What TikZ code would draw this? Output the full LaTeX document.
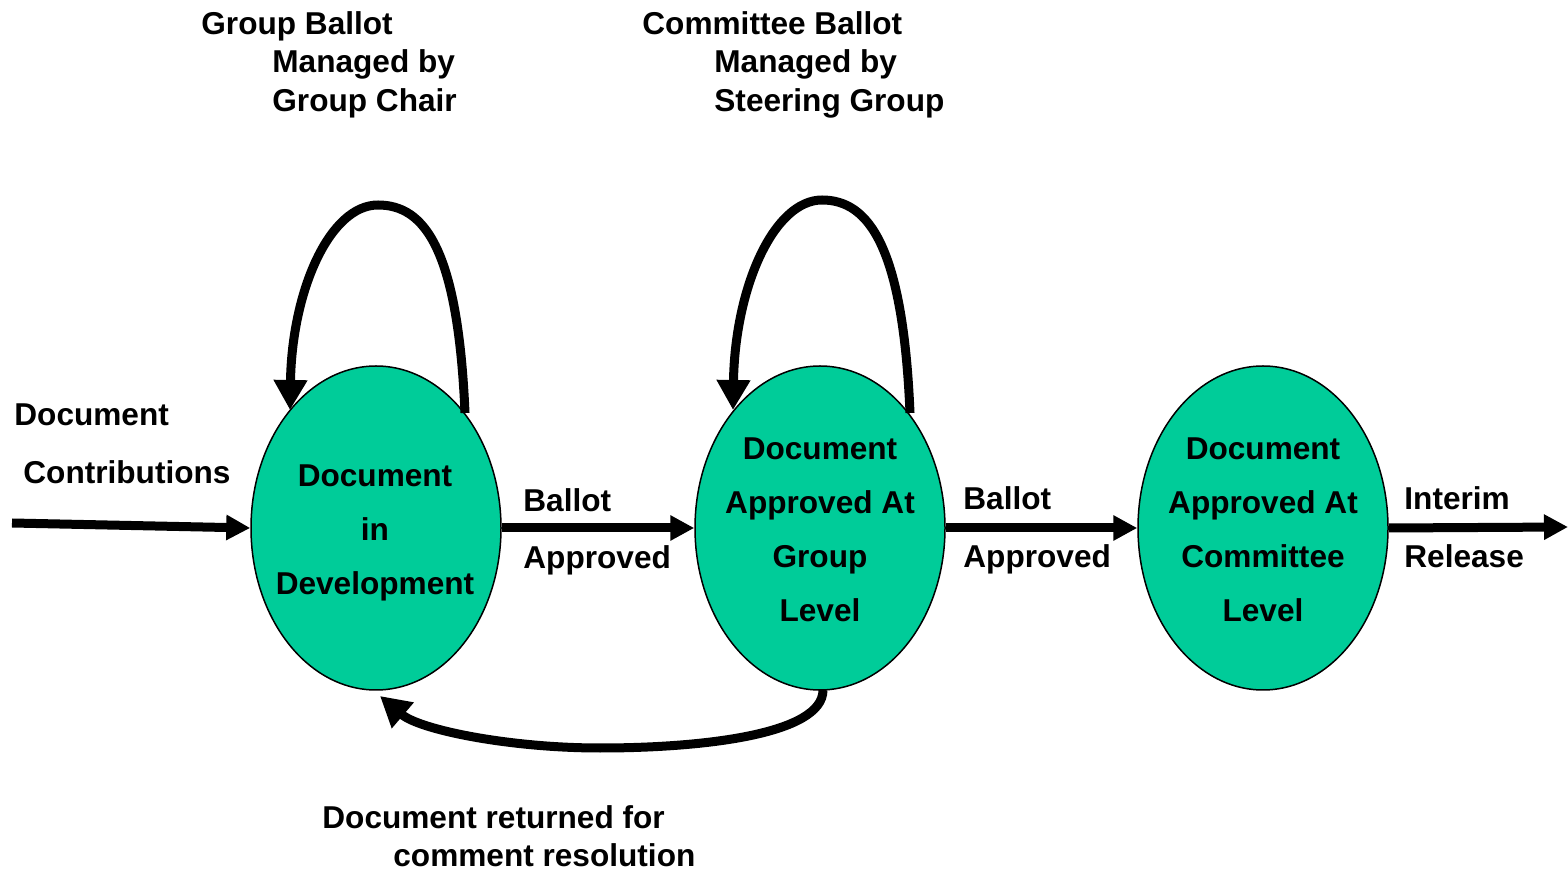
\documentclass[tikz,border=0pt]{standalone}
\usepackage{fontspec}
\setmainfont{Liberation Sans}
\usetikzlibrary{shapes.geometric,arrows.meta}
\definecolor{stategreen}{HTML}{00CC99}
\begin{document}
\begin{tikzpicture}[x=0.5pt,y=-0.5pt,
  state/.style={ellipse, draw=black, line width=0.75pt, fill=stategreen,
    minimum width=125pt, minimum height=162pt, inner sep=0pt},
  stxt/.style={align=center, font=\fontsize{15.8}{27}\selectfont\bfseries, inner sep=0pt},
  lbl/.style={anchor=base west, font=\fontsize{15.8}{19}\selectfont\bfseries, inner sep=0pt},
  flow/.style={line width=4.5pt, -{Triangle[length=12pt,width=12pt]}},
  loopy/.style={line width=4.5pt, -{Triangle[length=15pt,width=16pt]}}]
\useasboundingbox (0,0) rectangle (1568,870);

% states
\node[state] (e1) at (376,528) {};
\node[state] (e2) at (820,528) {};
\node[state] (e3) at (1263,528) {};
\node[stxt] (t1) at (375,533) {Document\\in\\Development};
\node[stxt] (t2) at (820,530) {Document\\Approved At\\Group\\Level};
\node[stxt] (t3) at (1263,530) {Document\\Approved At\\Committee\\Level};

% straight flows
\coordinate (src) at (12,523);
\coordinate (sink) at (1568,527);
\draw[flow] (src) -- (e1.west);
\draw[flow] (e1.east) -- (e2.west);
\draw[flow] (e2.east) -- (e3.west);
\draw[flow] (e3.east) -- (sink);

% self loops
\coordinate (l1a) at (465,413);
\coordinate (l1b) at (290,410);
\coordinate (l2a) at (910,413);
\coordinate (l2b) at (733,410);
\draw[loopy] (l1a) .. controls (458,250) and (425,205) .. (378,205)
  .. controls (330,205) and (292,290) .. (l1b);
\draw[loopy] (l2a) .. controls (903,247) and (869,200) .. (822,200)
  .. controls (774,200) and (735,287) .. (l2b);

% return
\coordinate (r1) at (823,690);
\coordinate (r2) at (380,696);
\draw[loopy] (r1) .. controls (823,735) and (700,748) .. (600,748)
  .. controls (510,748) and (420,730) .. (r2);

% labels
\node[lbl] (g1) at (201,35) {Group Ballot};
\node[lbl] (g2) at (272,73) {Managed by};
\node[lbl] (g3) at (272,112) {Group Chair};
\node[lbl] (c1) at (642,35) {Committee Ballot};
\node[lbl] (c2) at (714,73) {Managed by};
\node[lbl] (c3) at (714,112) {Steering Group};
\node[lbl] (d1) at (14,426) {Document};
\node[lbl] (d2) at (23,484) {Contributions};
\node[lbl] (b1) at (523,512) {Ballot};
\node[lbl] (b2) at (523,569) {Approved};
\node[lbl] (b3) at (963,510) {Ballot};
\node[lbl] (b4) at (963,568) {Approved};
\node[lbl] (i1) at (1404,510) {Interim};
\node[lbl] (i2) at (1404,568) {Release};
\node[lbl] (r3) at (322,828) {Document returned for};
\node[lbl] (r4) at (393,866) {comment resolution};
\end{tikzpicture}
\end{document}
